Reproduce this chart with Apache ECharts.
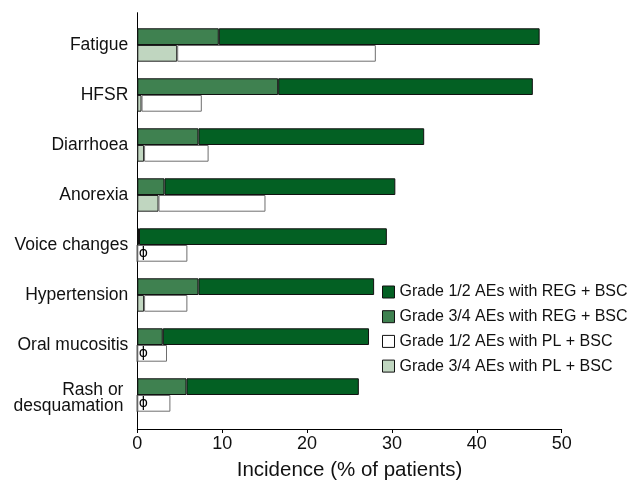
<!DOCTYPE html>
<html><head><meta charset="utf-8">
<script src="https://cdn.jsdelivr.net/npm/echarts@6/dist/echarts.min.js"></script>
<style>html,body{margin:0;padding:0;background:#fff}#c{width:630px;height:493px}</style>
</head><body><div id="c"></div>
<script>
var categories = ['Fatigue', 'HFSR', 'Diarrhoea', 'Anorexia', 'Voice changes', 'Hypertension', 'Oral mucositis', 'Rash or \ndesquamation '];
// segment lengths (% of patients)
var regGrade34 = [9.6, 16.6, 7.2, 3.2, 0.2, 7.2, 3.0, 5.8];
var regGrade12 = [37.8, 30.0, 26.6, 27.2, 29.2, 20.7, 24.3, 20.3];
var plGrade34 = [4.7, 0.5, 0.8, 2.5, 0, 0.8, 0, 0];
var plGrade12 = [23.4, 7.1, 7.6, 12.6, 5.9, 5.1, 3.5, 3.9];
var xTicks = [0, 10, 20, 30, 40, 50];
var legendNames = ['Grade 1/2 AEs with REG + BSC', 'Grade 3/4 AEs with REG + BSC', 'Grade 1/2 AEs with PL + BSC', 'Grade 3/4 AEs with PL + BSC'];

var FONT = '"Liberation Sans", Arial, sans-serif';
var chart = echarts.init(document.getElementById('c'), null, {renderer: 'canvas'});
var barW = '33.4%';
function bar(name, stack, data, color, border, extra) {
  var s = {
    name: name, type: 'bar', stack: stack, xAxisIndex: 1, yAxisIndex: 1,
    data: data, barWidth: barW, barGap: '0%',
    itemStyle: {color: color, borderColor: border, borderWidth: 1},
    emphasis: {disabled: true}, animation: false
  };
  if (extra) for (var k in extra) s[k] = extra[k];
  return s;
}
chart.setOption({
  animation: false,
  textStyle: {fontFamily: FONT},
  grid: [
    {left: 137.3, right: 68.3, top: 12.7, bottom: 64, containLabel: false},
    {left: 137.3, right: 68.3, top: 20, bottom: 73, containLabel: false}
  ],
  xAxis: [
    {
      gridIndex: 0, type: 'value', min: xTicks[0], max: xTicks[xTicks.length - 1], interval: 10,
      axisLine: {show: true, lineStyle: {color: '#000', width: 1}},
      axisTick: {show: true, length: 4, lineStyle: {color: '#000'}},
      axisLabel: {fontSize: 18, color: '#111', margin: 6, fontFamily: FONT},
      splitLine: {show: false},
      name: 'Incidence (% of patients)', nameLocation: 'middle', nameGap: 31,
      nameTextStyle: {fontSize: 20.5, color: '#111', fontFamily: FONT}
    },
    {
      gridIndex: 1, type: 'value', min: xTicks[0], max: xTicks[xTicks.length - 1], interval: 10,
      show: false
    }
  ],
  yAxis: [
    {
      gridIndex: 0, type: 'value', min: 0, max: 1,
      axisLine: {show: true, onZero: false, lineStyle: {color: '#000', width: 1}},
      axisTick: {show: false}, axisLabel: {show: false}, splitLine: {show: false}
    },
    {
      gridIndex: 1, type: 'category', data: categories, inverse: true,
      axisLine: {show: false}, axisTick: {show: false}, splitLine: {show: false},
      axisLabel: {
        fontSize: 17.5, color: '#111', margin: 9, fontFamily: FONT, lineHeight: 17, align: 'right',
        formatter: function (v) {
          if (v.indexOf('\n') < 0) return v;
          var parts = v.split('\n');
          return '{a|' + parts[0] + '}\n{b|' + parts[1] + '}';
        },
        rich: {
          a: {fontSize: 17.5, color: '#111', fontFamily: FONT, lineHeight: 22},
          b: {fontSize: 17.5, color: '#111', fontFamily: FONT, lineHeight: 10}
        }
      }
    }
  ],
  legend: {
    orient: 'vertical', left: 382, top: 284, padding: 0,
    itemWidth: 12, itemHeight: 12, itemGap: 8.7,
    data: legendNames,
    itemStyle: {borderColor: '#111', borderWidth: 1},
    textStyle: {fontSize: 16, color: '#111', fontFamily: FONT, lineHeight: 16, padding: [0, 0, 0, 0]},
    selectedMode: false, icon: 'rect'
  },
  series: [
    bar(legendNames[1], 'reg', regGrade34, '#3f8150', '#111'),
    bar(legendNames[0], 'reg', regGrade12, '#036023', '#111'),
    bar(legendNames[3], 'pl', plGrade34, '#c0d6c0', '#222', {
      label: {
        show: true, position: 'right', distance: 1,
        formatter: function (p) { return p.value === 0 ? '\u03D5' : ''; },
        fontSize: 14, color: '#000', fontFamily: '"DejaVu Sans", sans-serif'
      }
    }),
    bar(legendNames[2], 'pl', plGrade12, '#ffffff', '#6e6e6e')
  ]
});
</script></body></html>
